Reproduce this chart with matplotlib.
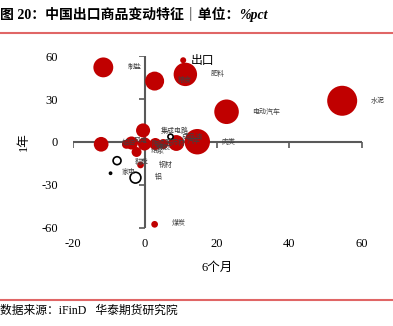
import matplotlib.pyplot as plt
import matplotlib.lines as mlines
import numpy as np

plt.rcParams['font.family'] = ['Liberation Serif', 'Noto Sans CJK SC']

# 6个月 / 1年 changes (%pct) and bubble sizes (negative -> hollow)
names = ["制盐", "粮食", "出口", "肥料", "电动汽车", "水泥", "船舶", "集成电路",
         "成品油", "肉类", "汽车", "医药材", "橡胶", "风电", "陶瓷", "纸浆",
         "鞋靴", "钢材", "家电", "铝", "煤炭", ""]
chg_6m = [-11.5, 2.7, 10.6, 11.2, 22.6, 54.6, -12.1, -0.5,
          7.1, 14.5, 8.7, 2.9, -0.1, -3.7, -5.1, -2.3,
          -7.7, -1.2, -9.5, -2.6, 2.7, 5.1]
chg_1y = [52.3, 42.7, 57.3, 47.4, 21.2, 28.9, -1.6, 8.1,
          3.7, 0.2, -0.7, -1.4, -1.4, -0.7, -1.6, -7.0,
          -13.1, -16.1, -21.9, -25.0, -57.7, -1.4]
sizes = [44, 40, 4, 61, 67, 100, 24, 22,
         -3, 72, 28, 16, 19, 19, 9, 11,
         -7, 5, -0.5, -13, 5, 11]

# label offsets in pixels from bubble centre
label_dx = [31, 30, 19, 32, 40, 36, 28, 32, 22, 31, 17, 20, 19, 9, 32, 21, 25, 25, 18, 23, 24, 0]
label_dy = [0, -1, 0, 0, 0, 0, -1, 1, 0, 0, -2, -1, 4, -2, 0, -1, 1, 0, -1, -1, -1, 0]

xticks = [-20, 0, 20, 40, 60]
yticks = [-60, -30, 0, 30, 60]

fig = plt.figure(figsize=(3.93, 3.26), dpi=100)
ax = fig.add_axes([72.6 / 393, (326 - 227.6) / 326, 289.1 / 393, 171.2 / 326])
ax.set_xlim(-20, 60)
ax.set_ylim(-60, 60)
for s in ax.spines.values():
    s.set_visible(False)

ax.set_xticks(xticks)
ax.set_yticks(yticks)
ax.set_xticklabels([str(t) for t in xticks])
ax.set_yticklabels([str(t) for t in yticks])
ax.tick_params(axis='x', length=0, pad=7.5, labelsize=9)
ax.tick_params(axis='y', length=0, pad=10.5, labelsize=9)
ax.set_xlabel("6个月", fontsize=9)
ax.set_ylabel("1年", fontsize=9)
ax.xaxis.set_label_coords(0.5, -0.2)
ax.yaxis.set_label_coords(-0.147, 0.5)

# axes crossing at zero
axis_col = '#595959'
ax.plot([xticks[0], xticks[-1]], [0, 0], color=axis_col, lw=1.5, zorder=1)
ax.plot([0, 0], [yticks[0], yticks[-1]], color=axis_col, lw=1.5, zorder=1)
ax.plot(xticks, np.zeros(len(xticks)), ls='none', marker=mlines.TICKDOWN,
        ms=4, mew=1.2, color=axis_col, zorder=1)
ax.plot(np.zeros(len(yticks)), yticks, ls='none', marker=mlines.TICKLEFT,
        ms=4, mew=1.2, color=axis_col, zorder=1)

sizes = np.array(sizes)
r_px = 1.5 * np.sqrt(np.abs(sizes))
s_pt = (2 * r_px * 0.72) ** 2
neg = sizes < 0
x = np.array(chg_6m)
y = np.array(chg_1y)
ax.scatter(x[~neg], y[~neg], s=s_pt[~neg], color='#C00000', lw=0, zorder=3, clip_on=False)
ax.scatter(x[neg], y[neg], s=s_pt[neg], facecolor='white', edgecolor='black',
           lw=1.2, zorder=3, clip_on=False)

for i, name in enumerate(names):
    if not name:
        continue
    if name == "出口":
        fs, col = 8.5, 'black'
    else:
        fs, col = 5, '#404040'
    ax.annotate(name, (x[i], y[i]), xytext=(label_dx[i], -label_dy[i]),
                textcoords='offset pixels', ha='center', va='center',
                fontsize=fs, color=col, family='Noto Sans CJK SC', zorder=5)

# header / footer
line_col = '#E06666'
fig.add_artist(mlines.Line2D([0, 1], [1 - 33 / 326] * 2, color=line_col, lw=1.5))
fig.add_artist(mlines.Line2D([0, 1], [1 - 299.5 / 326] * 2, color=line_col, lw=1.5))
t1 = fig.text(0.0, 1 - 15 / 326, "图 20：中国出口商品变动特征｜单位：", fontsize=10,
              fontweight='bold', va='center', ha='left')
fig.canvas.draw()
bb = t1.get_window_extent()
fig.text(bb.x1 / fig.bbox.width, 1 - 15 / 326, "%pct", fontsize=10, fontweight='bold',
         style='italic', va='center', ha='left', family='Liberation Serif')
fig.text(0.0, 1 - 311 / 326, "数据来源：iFinD   华泰期货研究院", fontsize=8.5,
         va='center', ha='left')

fig.savefig('out.png', dpi=100)
